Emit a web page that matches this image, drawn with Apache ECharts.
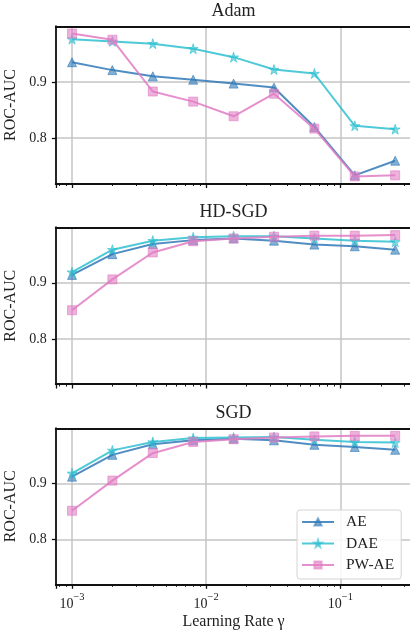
<!DOCTYPE html>
<html>
<head>
<meta charset="utf-8">
<script src="https://cdn.jsdelivr.net/npm/echarts@6/dist/echarts.min.js"></script>
<style>
html,body{margin:0;padding:0;background:#fff;}
#chart{width:410px;height:633px;}
</style>
</head>
<body>
<div id="chart"></div>
<script>
// ---- data ----
const learningRates = [0.001, 0.002, 0.004, 0.008, 0.016, 0.032, 0.064, 0.128, 0.256];
const panelTitles = ['Adam', 'HD-SGD', 'SGD'];
const seriesNames = ['AE', 'DAE', 'PW-AE'];
const yTicks = [0.8, 0.9];

const adamAE   = [0.935, 0.921, 0.910, 0.904, 0.897, 0.890, 0.820, 0.734, 0.760];
const adamDAE  = [0.976, 0.972, 0.968, 0.959, 0.944, 0.922, 0.915, 0.822, 0.816];
const adamPWAE = [0.986, 0.975, 0.883, 0.865, 0.839, 0.879, 0.817, 0.732, 0.734];

const hdsgdAE   = [0.914, 0.951, 0.969, 0.976, 0.979, 0.975, 0.968, 0.965, 0.959];
const hdsgdDAE  = [0.919, 0.959, 0.975, 0.981, 0.983, 0.983, 0.979, 0.975, 0.973];
const hdsgdPWAE = [0.851, 0.906, 0.954, 0.974, 0.979, 0.982, 0.984, 0.984, 0.985];

const sgdAE   = [0.912, 0.951, 0.970, 0.977, 0.980, 0.977, 0.969, 0.965, 0.960];
const sgdDAE  = [0.918, 0.959, 0.974, 0.981, 0.982, 0.983, 0.978, 0.974, 0.973];
const sgdPWAE = [0.851, 0.905, 0.954, 0.974, 0.979, 0.982, 0.984, 0.985, 0.985];

const panelData = [
  [adamAE, adamDAE, adamPWAE],
  [hdsgdAE, hdsgdDAE, hdsgdPWAE],
  [sgdAE, sgdDAE, sgdPWAE]
];

// ---- style ----
const FONT = '"Liberation Serif", "DejaVu Serif", serif';
const colors = ['#3079b7', '#2fc0d0', '#e17dc3'];
const starPath = 'path://M50,0 L61.8,35.1 L97.6,34.5 L68.8,55.9 L79.4,90.5 L50,69.5 L20.6,90.5 L31.2,55.9 L2.4,34.5 L38.2,35.1 Z';
const symbols = ['triangle', starPath, 'rect'];
const symbolSizes = [9, 10, 9];

const X_MIN = Math.pow(10, -3.1204);
const X_MAX = Math.pow(10, -0.4719);
const Y_MIN = 0.7195;
const Y_MAX = 0.9985;

const gridLeft = 55.85, gridWidth = 355.4;
const gridTops = [26.5, 227.5, 428.3];
const gridHeights = [157, 156.5, 156];

const grids = [], xAxes = [], yAxes = [], series = [], titles = [];

function supLabel(v) {
  const e = Math.round(Math.log10(v));
  return '{b|10}{s|\u2212' + Math.abs(e) + '}';
}

for (let p = 0; p < 3; p++) {
  grids.push({left: gridLeft, width: gridWidth, top: gridTops[p], height: gridHeights[p],
              containLabel: false, outerBoundsMode: 'none'});
  titles.push({
    text: panelTitles[p],
    left: gridLeft + gridWidth / 2,
    textAlign: 'center',
    top: gridTops[p] - 24,
    padding: 0,
    textStyle: {fontFamily: FONT, fontSize: 18, fontWeight: 'normal', color: '#222'}
  });
  const last = p === 2;
  xAxes.push({
    type: 'log', logBase: 10, gridIndex: p, min: X_MIN, max: X_MAX,
    position: 'bottom',
    axisLine: {show: true, lineStyle: {color: '#111', width: 1.8, cap: 'square'}},
    axisTick: {show: true, length: 4.5, lineStyle: {color: '#111', width: 1.3}},
    minorTick: {show: true, splitNumber: 9, length: 2.5, lineStyle: {color: '#111', width: 1}},
    splitLine: {show: true, lineStyle: {color: '#c4c4c4', width: 1.5}},
    axisLabel: {
      show: last, showMinLabel: false, showMaxLabel: false, margin: 7,
      formatter: supLabel,
      rich: {
        b: {fontFamily: FONT, fontSize: 14, color: '#222', lineHeight: 20, verticalAlign: 'bottom'},
        s: {fontFamily: FONT, fontSize: 10.5, color: '#222', lineHeight: 13, verticalAlign: 'top'}
      }
    },
    name: last ? 'Learning Rate \u03b3' : '',
    nameLocation: 'middle', nameGap: 29,
    nameTextStyle: {fontFamily: FONT, fontSize: 16, color: '#222'}
  });
  xAxes.push({
    type: 'log', logBase: 10, gridIndex: p, min: X_MIN, max: X_MAX, position: 'top',
    axisLine: {show: true, lineStyle: {color: '#111', width: 1.8, cap: 'square'}},
    axisTick: {show: false}, axisLabel: {show: false}, splitLine: {show: false}
  });
  yAxes.push({
    type: 'value', gridIndex: p, min: Y_MIN, max: Y_MAX,
    splitNumber: 2, minInterval: 0.1, maxInterval: 0.1,
    position: 'left',
    axisLine: {show: true, lineStyle: {color: '#111', width: 1.8, cap: 'square'}},
    axisTick: {show: true, length: 4, lineStyle: {color: '#111', width: 1.3}},
    splitLine: {show: true, lineStyle: {color: '#c4c4c4', width: 1.5}},
    axisLabel: {
      showMinLabel: false, showMaxLabel: false, margin: 9,
      fontFamily: FONT, fontSize: 14, color: '#222',
      formatter: v => (yTicks.some(t => Math.abs(t - v) < 1e-6) ? v.toFixed(1) : '')
    },
    name: 'ROC-AUC', nameLocation: 'middle', nameGap: 33, nameRotate: 90,
    nameTextStyle: {fontFamily: FONT, fontSize: 16, color: '#222'}
  });
  yAxes.push({
    type: 'value', gridIndex: p, min: Y_MIN, max: Y_MAX, position: 'right',
    axisLine: {show: true, lineStyle: {color: '#111', width: 1.8, cap: 'square'}},
    axisTick: {show: false}, axisLabel: {show: false}, splitLine: {show: false}
  });
  for (let s = 0; s < 3; s++) {
    series.push({
      type: 'line', name: seriesNames[s],
      xAxisIndex: p * 2, yAxisIndex: p * 2,
      data: learningRates.map((lr, i) => [lr, panelData[p][s][i]]),
      symbol: symbols[s], symbolSize: symbolSizes[s],
      showAllSymbol: true,
      lineStyle: {color: colors[s], width: 2, opacity: 0.85},
      itemStyle: {color: colors[s], opacity: 0.6, borderColor: colors[s], borderWidth: 1},
      emphasis: {disabled: true},
      z: 3 + s,
      animation: false
    });
  }
}

const chart = echarts.init(document.getElementById('chart'), null, {renderer: 'canvas'});
chart.setOption({
  backgroundColor: '#fff',
  animation: false,
  title: titles,
  grid: grids,
  xAxis: xAxes,
  yAxis: yAxes,
  legend: {
    data: seriesNames,
    orient: 'vertical',
    left: 297, top: 510,
    padding: [4, 7, 6, 4],
    itemWidth: 32, itemHeight: 9, itemGap: 5.5,
    backgroundColor: 'rgba(255,255,255,0.85)',
    borderColor: '#d4d4d4', borderWidth: 1, borderRadius: 3,
    textStyle: {fontFamily: FONT, fontSize: 15.5, color: '#222', padding: [0, 0, 0, 7]}
  },
  series: series
});
</script>
</body>
</html>
